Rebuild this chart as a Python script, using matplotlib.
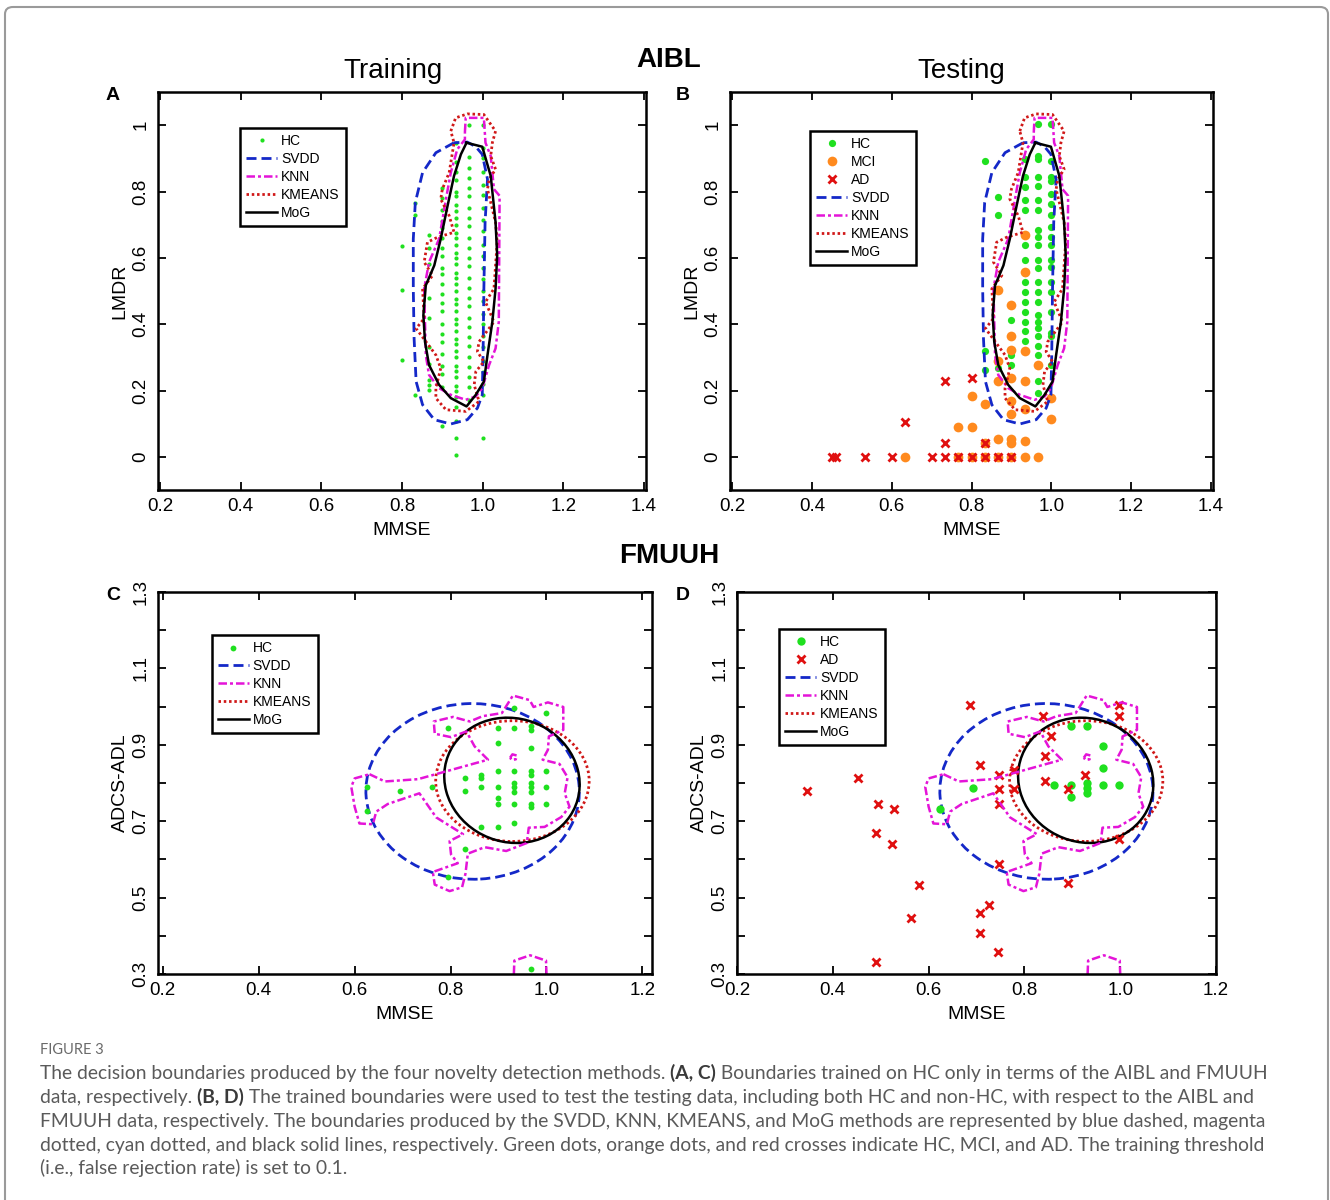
import numpy as np
import matplotlib.pyplot as plt
from matplotlib.patches import Ellipse, FancyBboxPatch
from matplotlib.lines import Line2D

plt.rcParams['font.family'] = ['Liberation Sans', 'DejaVu Sans']

W, H = 1330, 1200

# ---------------- AIBL data (panels A, B) ----------------
# training HC, one list of LMDR values per MMSE column
a_hc_cols = [0.8, 0.833, 0.867, 0.9, 0.933, 0.967, 1.0]
a_hc_lmdr = [
    [0.635, 0.504, 0.292],
    [0.764, 0.729, 0.187],
    [0.67, 0.63, 0.58, 0.48, 0.42, 0.33, 0.28, 0.232, 0.217, 0.202],
    [0.81, 0.78, 0.745, 0.71, 0.69, 0.66, 0.63, 0.605, 0.57, 0.55, 0.52, 0.49,
     0.465, 0.44, 0.40, 0.37, 0.345, 0.31, 0.275, 0.25, 0.21, 0.094],
    [0.945, 0.89, 0.86, 0.835, 0.80, 0.785, 0.76, 0.74, 0.72, 0.70, 0.675, 0.66,
     0.64, 0.615, 0.60, 0.58, 0.555, 0.54, 0.52, 0.50, 0.475, 0.46, 0.44, 0.415,
     0.40, 0.38, 0.355, 0.34, 0.32, 0.30, 0.275, 0.26, 0.24, 0.215, 0.20, 0.18,
     0.15, 0.107, 0.057, 0.007],
    [1.0, 0.905, 0.87, 0.84, 0.81, 0.785, 0.75, 0.72, 0.695, 0.66, 0.63, 0.60,
     0.575, 0.54, 0.51, 0.48, 0.455, 0.42, 0.39, 0.36, 0.335, 0.30, 0.27, 0.24,
     0.21, 0.172],
    [1.0, 0.932, 0.90, 0.86, 0.82, 0.79, 0.75, 0.715, 0.68, 0.64, 0.605, 0.57,
     0.535, 0.50, 0.47, 0.43, 0.40, 0.365, 0.33, 0.29, 0.255, 0.22, 0.187, 0.057],
]

# testing HC
b_hc_cols = [0.833, 0.867, 0.9, 0.933, 0.967, 1.0]
b_hc_lmdr = [
    [0.893, 0.318, 0.263],
    [0.783, 0.728, 0.268],
    [0.413, 0.308, 0.278],
    [0.898, 0.843, 0.813, 0.773, 0.743, 0.638, 0.593, 0.553, 0.528, 0.498,
     0.468, 0.438, 0.408, 0.378, 0.348],
    [1.003, 0.908, 0.898, 0.843, 0.818, 0.773, 0.743, 0.683, 0.663, 0.638,
     0.593, 0.568, 0.528, 0.498, 0.468, 0.428, 0.408, 0.388, 0.363, 0.333,
     0.308, 0.278, 0.228, 0.193],
    [1.003, 0.893, 0.843, 0.833, 0.793, 0.763, 0.728, 0.693, 0.663, 0.638,
     0.593, 0.573, 0.528, 0.498, 0.438, 0.373, 0.363, 0.278],
]

b_mci = [(0.933, 0.668), (0.933, 0.558), (0.9, 0.458), (0.867, 0.503), (0.9, 0.363),
         (0.933, 0.318), (0.9, 0.323), (0.867, 0.288), (0.867, 0.228), (0.9, 0.238),
         (0.933, 0.228), (0.967, 0.278), (1.0, 0.178), (0.9, 0.168), (0.933, 0.143),
         (0.9, 0.128), (1.0, 0.113), (0.833, 0.158), (0.8, 0.183), (0.767, 0.09),
         (0.8, 0.09), (0.867, 0.053), (0.9, 0.053), (0.9, 0.043), (0.933, 0.048),
         (0.833, 0.043), (0.633, 0.0), (0.767, 0.0), (0.8, 0.0), (0.833, 0.0),
         (0.867, 0.0), (0.9, 0.0), (0.933, 0.0), (0.967, 0.0)]

b_ad = [(0.45, 0.0), (0.46, 0.0), (0.533, 0.0), (0.6, 0.0), (0.7, 0.0), (0.733, 0.0),
        (0.767, 0.0), (0.8, 0.0), (0.833, 0.0), (0.867, 0.0), (0.9, 0.0),
        (0.733, 0.23), (0.8, 0.238), (0.633, 0.105), (0.733, 0.043), (0.833, 0.043)]

# trained boundaries (MMSE, LMDR), same in A and B
svdd_ab = [(0.929, 0.947), (0.884, 0.917), (0.851, 0.857), (0.833, 0.767), (0.828, 0.657),
           (0.828, 0.507), (0.830, 0.357), (0.835, 0.227), (0.851, 0.157), (0.880, 0.112),
           (0.921, 0.099), (0.962, 0.112), (0.987, 0.147), (0.999, 0.187), (1.001, 0.307),
           (1.003, 0.507), (1.006, 0.707), (1.012, 0.837), (0.999, 0.912), (0.983, 0.935),
           (0.962, 0.949)]
knn_ab = [(0.956, 0.979), (0.958, 1.022), (1.003, 1.022), (1.007, 0.947), (1.020, 0.907),
          (1.028, 0.807), (1.042, 0.787), (1.040, 0.407), (1.032, 0.327), (1.016, 0.277),
          (0.999, 0.207), (0.983, 0.182), (0.958, 0.172), (0.921, 0.187), (0.892, 0.207),
          (0.867, 0.247), (0.859, 0.307), (0.855, 0.507), (0.867, 0.587), (0.892, 0.657),
          (0.909, 0.777), (0.921, 0.857), (0.937, 0.927), (0.956, 0.957)]
kmeans_ab = [(0.921, 0.982), (0.933, 1.022), (0.962, 1.034), (1.003, 1.032), (1.032, 0.982),
             (1.024, 0.947), (1.020, 0.907), (1.032, 0.867), (1.016, 0.837), (1.012, 0.807),
             (1.032, 0.707), (1.036, 0.647), (1.028, 0.507), (1.007, 0.467), (1.028, 0.407),
             (0.991, 0.347), (0.987, 0.317), (1.003, 0.287), (0.983, 0.257), (0.979, 0.217),
             (0.991, 0.167), (0.958, 0.137), (0.909, 0.142), (0.884, 0.177), (0.884, 0.207),
             (0.896, 0.267), (0.884, 0.307), (0.835, 0.387), (0.855, 0.417), (0.851, 0.507),
             (0.876, 0.547), (0.855, 0.587), (0.863, 0.647), (0.888, 0.662), (0.929, 0.677),
             (0.917, 0.727), (0.896, 0.777), (0.900, 0.807), (0.917, 0.857), (0.929, 0.947)]
mog_ab = [(0.960, 0.947), (0.999, 0.935), (1.020, 0.847), (1.032, 0.707), (1.036, 0.607),
          (1.032, 0.507), (1.024, 0.407), (1.012, 0.307), (1.003, 0.227), (0.983, 0.187),
          (0.960, 0.152), (0.921, 0.177), (0.892, 0.217), (0.867, 0.277), (0.857, 0.347),
          (0.853, 0.427), (0.859, 0.517), (0.880, 0.577), (0.896, 0.657), (0.913, 0.757),
          (0.929, 0.847), (0.946, 0.912)]

# ---------------- FMUUH data (panels C, D) ----------------
c_hc = [(0.626, 0.790), (0.626, 0.726), (0.694, 0.780), (0.762, 0.790), (0.794, 0.944),
        (0.794, 0.553), (0.831, 0.812), (0.831, 0.780), (0.831, 0.628), (0.864, 0.821),
        (0.864, 0.812), (0.864, 0.790), (0.864, 0.685), (0.899, 0.944), (0.899, 0.904),
        (0.899, 0.832), (0.899, 0.790), (0.899, 0.760), (0.899, 0.746), (0.899, 0.685),
        (0.932, 0.996), (0.932, 0.944), (0.932, 0.832), (0.932, 0.799), (0.932, 0.790),
        (0.932, 0.777), (0.932, 0.746), (0.932, 0.694), (0.967, 0.948), (0.967, 0.940),
        (0.967, 0.891), (0.967, 0.832), (0.967, 0.821), (0.967, 0.799), (0.967, 0.790),
        (0.967, 0.777), (0.967, 0.746), (0.967, 0.738), (1.0, 0.983), (1.0, 0.832),
        (1.0, 0.790), (1.0, 0.746), (0.967, 0.312)]

d_hc = [(0.624, 0.731), (0.692, 0.786), (0.862, 0.795), (0.897, 0.950), (0.930, 0.950),
        (0.964, 0.897), (0.964, 0.839), (0.897, 0.795), (0.897, 0.764), (0.930, 0.799),
        (0.930, 0.786), (0.930, 0.773), (0.964, 0.795), (0.998, 0.795)]
d_ad = [(0.347, 0.780), (0.453, 0.814), (0.494, 0.746), (0.527, 0.732), (0.491, 0.668),
        (0.524, 0.641), (0.579, 0.533), (0.564, 0.446), (0.491, 0.332), (0.686, 1.003),
        (0.707, 0.846), (0.746, 0.821), (0.746, 0.783), (0.778, 0.834), (0.778, 0.783),
        (0.746, 0.744), (0.838, 0.976), (0.855, 0.924), (0.843, 0.871), (0.843, 0.806),
        (0.890, 0.783), (0.926, 0.821), (0.998, 1.003), (0.998, 0.975), (0.997, 0.654),
        (0.746, 0.589), (0.890, 0.539), (0.726, 0.480), (0.708, 0.460), (0.708, 0.407),
        (0.745, 0.358)]

# ellipse-like boundaries: centre x, centre y, width, height, angle
svdd_cd = (0.846, 0.778, 0.445, 0.46, 4)
kmeans_cd = (0.929, 0.805, 0.32, 0.316, 0)
mog_cd = (0.928, 0.807, 0.28, 0.33, 12)
knn_cd = [(0.631, 0.823), (0.663, 0.804), (0.732, 0.810), (0.878, 0.861), (0.850, 0.896),
          (0.833, 0.935), (0.801, 0.920), (0.767, 0.929), (0.765, 0.961), (0.805, 0.973),
          (0.840, 0.961), (0.867, 0.975), (0.907, 0.983), (0.930, 1.029), (0.965, 1.017),
          (0.973, 0.999), (1.003, 1.011), (1.035, 0.999), (1.035, 0.939), (1.005, 0.922),
          (1.003, 0.887), (0.992, 0.861), (1.027, 0.850), (1.044, 0.815), (1.038, 0.773),
          (1.048, 0.738), (1.031, 0.711), (0.996, 0.685), (0.963, 0.683), (0.959, 0.643),
          (0.916, 0.622), (0.871, 0.632), (0.836, 0.615), (0.831, 0.562), (0.824, 0.527),
          (0.798, 0.517), (0.767, 0.534), (0.763, 0.567), (0.815, 0.590), (0.801, 0.613),
          (0.798, 0.648), (0.826, 0.666), (0.770, 0.710), (0.735, 0.773), (0.669, 0.745),
          (0.645, 0.725), (0.638, 0.692), (0.610, 0.694), (0.600, 0.738), (0.593, 0.790),
          (0.600, 0.812)]
knn_cd_cap = [(0.932, 0.30), (0.933, 0.335), (0.966, 0.349), (0.999, 0.335), (1.0, 0.30)]
knn_cd_hook = [(0.924, 0.866), (0.929, 0.875), (0.938, 0.872), (0.936, 0.862), (0.928, 0.860)]

# ---------------- styles ----------------
GREEN = '#1FE01F'
ORANGE = '#FF8A1E'
RED = '#E01010'
BLUE = '#1428C8'
MAGENTA = '#E414D8'
KRED = '#D01818'

svdd_style = dict(color=BLUE, lw=2.0, dashes=(3.6, 1.8))
knn_style = dict(color=MAGENTA, lw=1.8, dashes=(3.4, 1.2, 1.2, 1.2))
kmeans_style = dict(color=KRED, lw=2.0, dashes=(0.9, 1.0))
mog_style = dict(color='black', lw=1.8)


def closed(pts):
    arr = np.array(pts + [pts[0]])
    return arr[:, 0], arr[:, 1]


def cols_to_xy(cols, rows):
    xs = np.concatenate([[c] * len(r) for c, r in zip(cols, rows)])
    ys = np.concatenate(rows)
    return xs, ys


def style_axes(ax, xlim, ylim, xticks, yticks, ylabels):
    ax.set_xlim(xlim)
    ax.set_ylim(ylim)
    ax.set_xticks(xticks)
    ax.set_xticklabels(['%.1f' % t for t in xticks])
    ax.set_yticks(yticks)
    ax.set_yticklabels(ylabels, rotation=90, va='center', ha='right')
    ax.tick_params(direction='in', top=True, right=True, length=6, width=1.3,
                   labelsize=13.5, pad=6)
    for s in ax.spines.values():
        s.set_linewidth(1.8)


def make_legend(ax, handles, anchor):
    leg = ax.legend(handles=handles, loc='upper left', bbox_to_anchor=anchor,
                    borderaxespad=0, fancybox=False, edgecolor='black', framealpha=1,
                    fontsize=10, handlelength=2.2, labelspacing=0.28, borderpad=0.45,
                    handletextpad=0.3)
    leg.get_frame().set_linewidth(1.8)


def line_handles():
    return [Line2D([], [], label='SVDD', **svdd_style),
            Line2D([], [], label='KNN', **knn_style),
            Line2D([], [], label='KMEANS', **kmeans_style),
            Line2D([], [], label='MoG', **mog_style)]


def draw_ab_bounds(ax):
    ax.plot(*closed(svdd_ab), **svdd_style)
    ax.plot(*closed(knn_ab), **knn_style)
    ax.plot(*closed(kmeans_ab), **kmeans_style)
    ax.plot(*closed(mog_ab), **mog_style)


def draw_cd_bounds(ax):
    for par, st in [(svdd_cd, svdd_style), (kmeans_cd, kmeans_style), (mog_cd, mog_style)]:
        ls = (0, st['dashes']) if 'dashes' in st else '-'
        ax.add_patch(Ellipse((par[0], par[1]), par[2], par[3], angle=par[4], fill=False,
                             edgecolor=st['color'], lw=st['lw'], linestyle=ls))
    ax.plot(*closed(knn_cd), **knn_style)
    ax.plot(*closed(knn_cd_hook), **knn_style)
    cap = np.array(knn_cd_cap)
    ax.plot(cap[:, 0], cap[:, 1], **knn_style)


fig = plt.figure(figsize=(W / 100, H / 100), dpi=100)

def ax_at(l, t, r, b):
    return fig.add_axes([l / W, 1 - b / H, (r - l) / W, (b - t) / H])

ab_xticks = [0.2, 0.4, 0.6, 0.8, 1.0, 1.2, 1.4]
ab_yticks = [0, 0.2, 0.4, 0.6, 0.8, 1.0]
ab_ylabels = ['0', '0.2', '0.4', '0.6', '0.8', '1']
cd_xticks = [0.2, 0.4, 0.6, 0.8, 1.0, 1.2]
cd_yticks = [0.3, 0.4, 0.5, 0.6, 0.7, 0.8, 0.9, 1.0, 1.1, 1.2, 1.3]
cd_ylabels = ['0.3', '', '0.5', '', '0.7', '', '0.9', '', '1.1', '', '1.3']

# ---- A
axA = ax_at(158, 92, 646, 490)
x, y = cols_to_xy(a_hc_cols, a_hc_lmdr)
axA.plot(x, y, 'o', ms=3.0, color=GREEN, mec='none')
draw_ab_bounds(axA)
style_axes(axA, (0.195, 1.405), (-0.1, 1.1), ab_xticks, ab_yticks, ab_ylabels)
axA.set_xlabel('MMSE', fontsize=14, labelpad=5)
axA.set_ylabel('LMDR', fontsize=14, labelpad=3)
make_legend(axA, [Line2D([], [], ls='none', marker='o', ms=3.0, color=GREEN, mec='none',
                         label='HC')] + line_handles(), (0.168, 0.910))

# ---- B
axB = ax_at(730, 92, 1213, 490)
x, y = cols_to_xy(b_hc_cols, b_hc_lmdr)
axB.plot(x, y, 'o', ms=5.2, color=GREEN, mec='none')
m = np.array(b_mci)
axB.plot(m[:, 0], m[:, 1], 'o', ms=7, color=ORANGE, mec='none')
ad = np.array(b_ad)
axB.plot(ad[:, 0], ad[:, 1], 'x', ms=6, mew=2, color=RED)
draw_ab_bounds(axB)
style_axes(axB, (0.195, 1.405), (-0.1, 1.1), ab_xticks, ab_yticks, ab_ylabels)
axB.set_xlabel('MMSE', fontsize=14, labelpad=5)
axB.set_ylabel('LMDR', fontsize=14, labelpad=3)
make_legend(axB, [Line2D([], [], ls='none', marker='o', ms=5.2, color=GREEN, mec='none', label='HC'),
                  Line2D([], [], ls='none', marker='o', ms=7, color=ORANGE, mec='none', label='MCI'),
                  Line2D([], [], ls='none', marker='x', ms=6, mew=2, color=RED, label='AD')]
            + line_handles(), (0.166, 0.902))

# ---- C
axC = ax_at(158, 592, 652, 974)
p = np.array(c_hc)
axC.plot(p[:, 0], p[:, 1], 'o', ms=4.2, color=GREEN, mec='none')
draw_cd_bounds(axC)
style_axes(axC, (0.19, 1.22), (0.3, 1.3), cd_xticks, cd_yticks, cd_ylabels)
axC.set_xlabel('MMSE', fontsize=14, labelpad=5)
axC.set_ylabel('ADCS-ADL', fontsize=14, labelpad=3)
make_legend(axC, [Line2D([], [], ls='none', marker='o', ms=4.2, color=GREEN, mec='none',
                         label='HC')] + line_handles(), (0.109, 0.887))

# ---- D
axD = ax_at(737, 592, 1216, 974)
p = np.array(d_hc)
axD.plot(p[:, 0], p[:, 1], 'o', ms=6, color=GREEN, mec='none')
p = np.array(d_ad)
axD.plot(p[:, 0], p[:, 1], 'x', ms=6, mew=2, color=RED)
draw_cd_bounds(axD)
style_axes(axD, (0.207, 1.2), (0.3, 1.3), cd_xticks, cd_yticks, cd_ylabels)
axD.set_xlabel('MMSE', fontsize=14, labelpad=5)
axD.set_ylabel('ADCS-ADL', fontsize=14, labelpad=3)
make_legend(axD, [Line2D([], [], ls='none', marker='o', ms=6, color=GREEN, mec='none', label='HC'),
                  Line2D([], [], ls='none', marker='x', ms=6, mew=2, color=RED, label='AD')]
            + line_handles(), (0.088, 0.903))

# ---- titles and panel letters
def ftext(xp, yp, s, **kw):
    return fig.text(xp / W, 1 - yp / H, s, ha='center', va='center', **kw)

ftext(393, 71, 'Training', fontsize=20)
ftext(961, 71, 'Testing', fontsize=20)
ftext(669, 60, 'AIBL', fontsize=20, fontweight='bold')
ftext(669, 556, 'FMUUH', fontsize=20, fontweight='bold')
for xp, yp, s in [(113, 96, 'A'), (683, 96, 'B'), (113, 596, 'C'), (683, 596, 'D')]:
    ftext(xp, yp, s, fontsize=14, fontweight='bold')

# ---- frame
fig.patches.append(FancyBboxPatch((5 / W, -0.02), 1323 / W, 0.02 + 1 - 7 / H,
                                  boxstyle='round,pad=0,rounding_size=0.006',
                                  transform=fig.transFigure, fill=False,
                                  edgecolor='#9a9a9a', lw=1.5))

# ---- caption
cap_lines = [
    [('The decision boundaries produced by the four novelty detection methods. ', False),
     ('(A, C)', True), (' Boundaries trained on HC only in terms of the AIBL and FMUUH', False)],
    [('data, respectively. ', False), ('(B, D)', True),
     (' The trained boundaries were used to test the testing data, including both HC and non-HC, with respect to the AIBL and', False)],
    [('FMUUH data, respectively. The boundaries produced by the SVDD, KNN, KMEANS, and MoG methods are represented by blue dashed, magenta', False)],
    [('dotted, cyan dotted, and black solid lines, respectively. Green dots, orange dots, and red crosses indicate HC, MCI, and AD. The training threshold', False)],
    [('(i.e., false rejection rate) is set to 0.1.', False)],
]
cap_y = [1073, 1097, 1121, 1145, 1168]

fig.text(40 / W, 1 - 1050 / H, 'FIGURE 3', fontsize=10.5, color='#6a6a6a',
         family=['Lato', 'DejaVu Sans'], va='center', ha='left')

fig.canvas.draw()
renderer = fig.canvas.get_renderer()


def put_line(parts, xp, yp, size, measure=False):
    total = 0
    for txt, bold in parts:
        t = fig.text((xp + total) / W, 1 - yp / H, txt, fontsize=size,
                     fontweight='bold' if bold else 'normal',
                     color='#3a3a3a' if bold else '#5a5a5a',
                     family=['Lato', 'DejaVu Sans'], va='center', ha='left')
        total += t.get_window_extent(renderer).width
        if measure:
            t.remove()
    return total


wide = put_line(cap_lines[0], 40, cap_y[0], 13, measure=True)
cap_size = 13 * 1228 / wide
for parts, yp in zip(cap_lines, cap_y):
    put_line(parts, 40, yp, cap_size)

fig.savefig('out.png', dpi=100)
